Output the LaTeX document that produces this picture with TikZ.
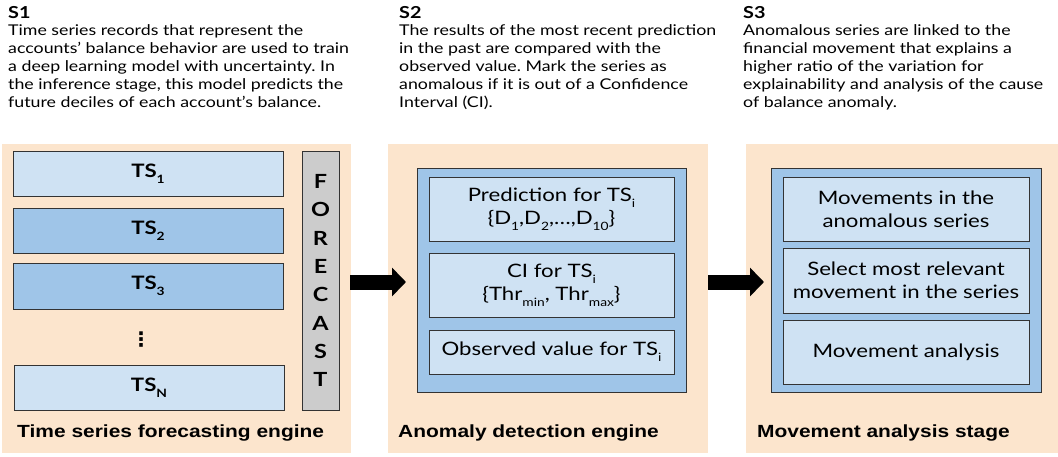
\documentclass[tikz,border=0pt]{standalone}
\usepackage{fontspec}
\setmainfont{Lato}[FakeStretch=1.2]
\newfontfamily\labelfont{Liberation Sans}[FakeStretch=1.19]
\newfontfamily\symfont{DejaVu Sans}
\usetikzlibrary{arrows.meta}
\frenchspacing

\definecolor{peach}{HTML}{FCE5CD}
\definecolor{lightblue}{HTML}{CFE2F3}
\definecolor{midblue}{HTML}{9FC5E8}
\definecolor{greybar}{HTML}{CCCCCC}
\definecolor{edge}{HTML}{333333}

% lowered small index used in the box texts
\newcommand\idx[1]{\raisebox{-0.32em}{\fontsize{11.5}{11.5}\selectfont #1}}

\tikzset{
  panel/.style={fill=peach, draw=none, inner sep=0pt},
  seriesbox/.style={draw=edge, line width=0.8pt, inner sep=0pt,
    font=\fontsize{18.5}{22}\selectfont\bfseries},
  holder/.style={draw=edge, line width=0.9pt, fill=midblue, inner sep=0pt},
  itembox/.style={draw=edge, line width=0.8pt, fill=lightblue, inner sep=0pt,
    align=center, font=\fontsize{18.5}{23}\selectfont},
  heading/.style={anchor=base west, inner sep=0pt, font=\fontsize{16.5}{18}\selectfont\bfseries},
  bodytext/.style={anchor=north west, inner sep=0pt, align=left,
    font=\fontsize{14.8}{18}\selectfont},
  stagelabel/.style={anchor=base west, inner sep=0pt,
    font=\labelfont\fontsize{17.6}{20}\selectfont\bfseries},
  bigarrow/.style={line width=15pt, -{Triangle[width=28pt,length=14pt]}}
}

\begin{document}
\begin{tikzpicture}[x=1pt, y=-1pt]
\useasboundingbox (0,0) rectangle (1058,456);

% ---------- step descriptions ----------
\node[heading] (h1) at (8,18) {S1};
\node[bodytext] (t1) at (8,22.4) {\strut Time series records that represent the\\
accounts’ balance behavior are used to train\\
a deep learning model with uncertainty. In\\
the inference stage, this model predicts the\\
future deciles of each account’s balance.};

\node[heading] (h2) at (399,18) {S2};
\node[bodytext] (t2) at (399,22.4) {\strut The results of the most recent prediction\\
in the past are compared with the\\
observed value. Mark the series as\\
anomalous if it is out of a Confidence\\
Interval (CI).};

\node[heading] (h3) at (743,18) {S3};
\node[bodytext] (t3) at (743,22.4) {\strut Anomalous series are linked to the\\
financial movement that explains a\\
higher ratio of the variation for\\
explainability and analysis of the cause\\
of balance anomaly.};

% ---------- stage panels ----------
\node[panel, minimum width=349pt, minimum height=309pt] (p1) at (176.5,298.5) {};
\node[panel, minimum width=320pt, minimum height=309pt] (p2) at (548,298.5) {};
\node[panel, minimum width=312pt, minimum height=309pt] (p3) at (902,298.5) {};

% ---------- stage 1: forecasting engine ----------
\node[seriesbox, fill=lightblue, minimum width=270pt, minimum height=45pt] (ts1) at (148,173.5) {TS\idx{1}};
\node[seriesbox, fill=midblue, minimum width=270pt, minimum height=45pt] (ts2) at (148,230.5) {TS\idx{2}};
\node[seriesbox, fill=midblue, minimum width=270pt, minimum height=46pt] (ts3) at (148,286) {TS\idx{3}};
\node[inner sep=0pt, font=\symfont\bfseries\fontsize{20}{20}\selectfont] (dots) at (141,340) {⋮};
\node[seriesbox, fill=lightblue, minimum width=270pt, minimum height=45pt] (tsn) at (149,387.5) {TS\idx{N}};
\node[draw=edge, line width=0.8pt, fill=greybar, minimum width=37pt, minimum height=259pt,
      inner sep=0pt, align=center, font=\fontsize{19.5}{28.3}\selectfont\bfseries]
      (fc) at (320.5,280.5) {F\\O\\R\\E\\C\\A\\S\\T};
\node[stagelabel] (l1) at (17,437) {Time series forecasting engine};

% ---------- stage 2: anomaly detection ----------
\node[holder, minimum width=269pt, minimum height=224pt] (b2) at (551.5,280) {};
\node[itembox, minimum width=245pt, minimum height=64pt] (pred) at (551.5,209)
  {Prediction for TS\idx{i}\\\{D\idx{1},D\idx{2},…,D\idx{10}\}};
\node[itembox, minimum width=245pt, minimum height=64pt] (ci) at (551.5,285)
  {CI for TS\idx{i}\\\{Thr\idx{min}, Thr\idx{max}\}};
\node[itembox, minimum width=245pt, minimum height=44pt] (obs) at (551.5,352)
  {Observed value for TS\idx{i}};
\node[stagelabel] (l2) at (398,437) {Anomaly detection engine};

% ---------- stage 3: movement analysis ----------
\node[holder, minimum width=270pt, minimum height=224pt] (b3) at (906,280) {};
\node[itembox, minimum width=246pt, minimum height=64pt] (mv1) at (906,209)
  {Movements in the\\anomalous series};
\node[itembox, minimum width=246pt, minimum height=65pt] (mv2) at (906,280.5)
  {Select most relevant\\movement in the series};
\node[itembox, minimum width=246pt, minimum height=64pt] (mv3) at (906,352)
  {Movement analysis};
\node[stagelabel] (l3) at (757,437) {Movement analysis stage};

% ---------- flow between stages ----------
\coordinate (a1s) at (350,282);
\coordinate (a1e) at (406,282);
\coordinate (a2s) at (708,282);
\coordinate (a2e) at (764,282);
\draw[bigarrow] (a1s) -- (a1e);
\draw[bigarrow] (a2s) -- (a2e);
\end{tikzpicture}
\end{document}
